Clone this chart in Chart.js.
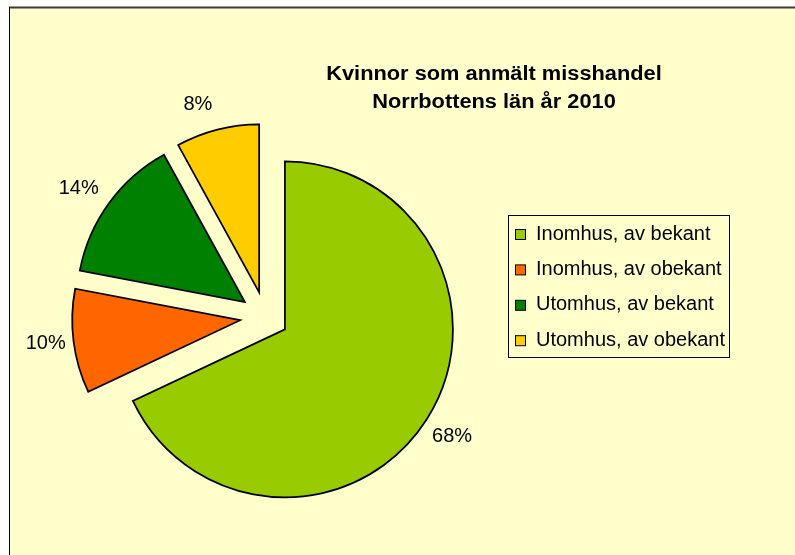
<!DOCTYPE html>
<html>
<head>
<meta charset="utf-8">
<script src="https://cdn.jsdelivr.net/npm/chart.js@4/dist/chart.umd.min.js"></script>
<style>
  html, body { margin: 0; padding: 0; background: #ffffff; }
  canvas { display: block; }
</style>
</head>
<body>
<canvas id="pie" width="795" height="555"></canvas>
<script>
// Reported assaults against women, Norrbotten county, 2010 (share in percent)
const categories = ['Inomhus, av bekant', 'Inomhus, av obekant', 'Utomhus, av bekant', 'Utomhus, av obekant'];
const shares = [68, 10, 14, 8];
const titleLines = ['Kvinnor som anmält misshandel', 'Norrbottens län år 2010'];

const sliceColors = ['#99CC00', '#FF6600', '#008000', '#FFCC00'];
const explode = [23, 25.5, 25.5, 25.5];   // px each slice is pulled out from the centre
const labelNudge = [[0, 1], [2, -2], [-6, 3], [-12, 4]];  // small label shifts off the bisector
const PIE_RADIUS = 168;
const LABEL_GAP = 30;
const FONT = '"Liberation Sans", Arial, sans-serif';

// Page frame and pale yellow plot background
const framePlugin = {
  id: 'frame',
  beforeDraw(chart) {
    const ctx = chart.ctx;
    const w = chart.width, h = chart.height;
    ctx.save();
    ctx.fillStyle = '#ffffff';
    ctx.fillRect(0, 0, w, h);
    ctx.fillStyle = '#FFFFCC';
    ctx.fillRect(9, 7, w - 9, h - 7);
    ctx.strokeStyle = '#3a3a3a';
    ctx.lineWidth = 2;
    ctx.beginPath();
    ctx.moveTo(9, 7.5);
    ctx.lineTo(w, 7.5);
    ctx.stroke();
    ctx.strokeStyle = '#000000';
    ctx.lineWidth = 1;
    ctx.beginPath();
    ctx.moveTo(9.5, 7);
    ctx.lineTo(9.5, h);
    ctx.stroke();
    ctx.restore();
  }
};

// Pull every slice outward along its bisector
const explodePlugin = {
  id: 'explode',
  beforeDatasetsDraw(chart) {
    const a = chart.chartArea;
    const cx = (a.left + a.right) / 2;
    const cy = (a.top + a.bottom) / 2;
    chart.getDatasetMeta(0).data.forEach((arc, i) => {
      const mid = (arc.startAngle + arc.endAngle) / 2;
      arc.x = cx + explode[i] * Math.cos(mid);
      arc.y = cy + explode[i] * Math.sin(mid);
    });
  }
};

// Percent labels outside each slice, title and legend
const textPlugin = {
  id: 'texts',
  afterDatasetsDraw(chart) {
    const ctx = chart.ctx;
    const ds = chart.data.datasets[0];
    ctx.save();
    ctx.fillStyle = '#000000';
    ctx.font = '20px ' + FONT;
    ctx.textAlign = 'center';
    ctx.textBaseline = 'middle';
    chart.getDatasetMeta(0).data.forEach((arc, i) => {
      const mid = (arc.startAngle + arc.endAngle) / 2;
      const r = arc.outerRadius + LABEL_GAP;
      const [nx, ny] = labelNudge[i];
      ctx.fillText(ds.data[i] + '%', arc.x + r * Math.cos(mid) + nx, arc.y + r * Math.sin(mid) + ny);
    });

    // title
    ctx.font = 'bold 20px ' + FONT;
    ctx.textBaseline = 'alphabetic';
    const titleX = 494;
    const titleBase = [79.5, 108];
    titleLines.forEach((line, i) => {
      ctx.save();
      ctx.translate(titleX, titleBase[i]);
      ctx.scale(1.09, 1);
      ctx.fillText(line, 0, 0);
      ctx.restore();
    });

    // legend
    const box = { x: 508.5, y: 215.5, w: 221, h: 142 };
    ctx.strokeStyle = '#000000';
    ctx.lineWidth = 1;
    ctx.strokeRect(box.x, box.y, box.w, box.h);
    ctx.font = '20px ' + FONT;
    ctx.textAlign = 'left';
    chart.data.labels.forEach((label, i) => {
      const top = 229.5 + i * 35.4;
      ctx.fillStyle = ds.backgroundColor[i];
      ctx.fillRect(515.5, top, 10, 10);
      ctx.strokeRect(515.5, top, 10, 10);
      ctx.fillStyle = '#000000';
      ctx.fillText(label, 536, top + 10);
    });
    ctx.restore();
  }
};

new Chart(document.getElementById('pie'), {
  type: 'pie',
  data: {
    labels: categories,
    datasets: [{
      data: shares,
      backgroundColor: sliceColors,
      borderColor: '#000000',
      borderWidth: 1.75,
      borderJoinStyle: 'miter',
      clip: false
    }]
  },
  options: {
    responsive: false,
    devicePixelRatio: 1,
    animation: false,
    events: [],
    radius: PIE_RADIUS,
    layout: { padding: { left: 0, right: 264, top: 79, bottom: 0 } },
    plugins: {
      legend: { display: false },
      title: { display: false },
      tooltip: { enabled: false }
    }
  },
  plugins: [framePlugin, explodePlugin, textPlugin]
});
</script>
</body>
</html>
